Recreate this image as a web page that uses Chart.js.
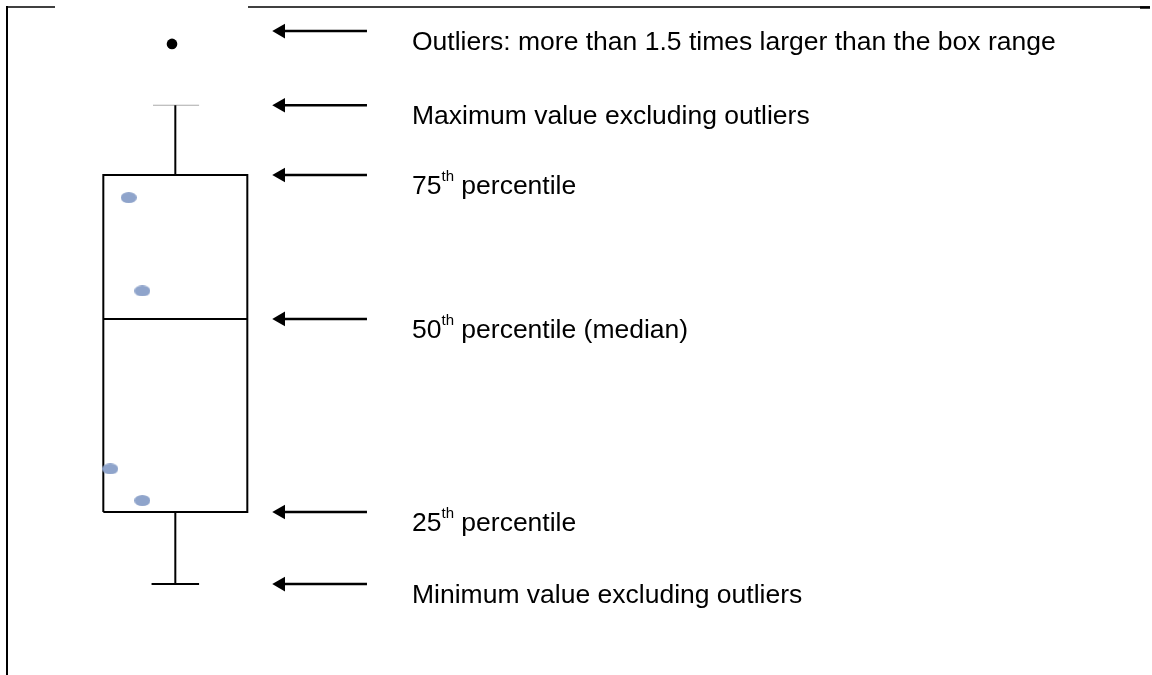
<!DOCTYPE html>
<html>
<head>
<meta charset="utf-8">
<script src="https://cdn.jsdelivr.net/npm/chart.js@4/dist/chart.umd.min.js"></script>
<style>
  html, body { margin: 0; padding: 0; background: #ffffff; }
  #wrap { width: 1152px; height: 675px; position: relative; }
</style>
</head>
<body>
<div id="wrap"><canvas id="c"></canvas></div>
<script>
// ---- data (illustrative box plot, arbitrary value units) ----
const boxStats = { min: 1.86, q1: 4.0, median: 9.73, q3: 14.0, max: 16.07 };
const outlierX = [0.954];
const outlierY = [17.89];
const sampleX = [0.353, 0.542, 0.097, 0.542];
const sampleY = [13.33, 10.56, 5.28, 4.34];
const arrowLevels = [18.27, 16.07, 14.0, 9.73, 4.0, 1.86];
const arrowLabels = [
  'Outliers: more than 1.5 times larger than the box range',
  'Maximum value excluding outliers',
  '75|th| percentile',
  '50|th| percentile (median)',
  '25|th| percentile',
  'Minimum value excluding outliers'
];

// ---- layout / style constants ----
const BOX_X = 1, BOX_HALF = 1, CAP_HALF = 0.33;
const ARROW_FROM = 2.464, ARROW_TO = 3.662, TEXT_X = 4.287;
const FONT = '"Liberation Sans", Arial, sans-serif';

// ellipse point style for the sample points
const ell = document.createElement('canvas');
ell.width = 16; ell.height = 11;
(function () {
  const g = ell.getContext('2d');
  g.fillStyle = '#8FA4CB';
  g.beginPath();
  g.ellipse(8, 5.5, 8, 5.5, 0, 0, Math.PI * 2);
  g.fill();
})();

const S = boxStats;
const seg = (a, b) => [a, b];
const LW = 2;
const datasets = [
  { // sample points (on top)
    data: sampleX.map((x, i) => ({ x, y: sampleY[i] })),
    pointStyle: ell, pointRadius: 8, showLine: false
  },
  { // outlier
    data: outlierX.map((x, i) => ({ x, y: outlierY[i] })),
    pointStyle: 'circle', pointRadius: 5.3, backgroundColor: '#000', borderWidth: 0, showLine: false
  },
  { // box
    data: [
      { x: BOX_X - BOX_HALF, y: S.q1 }, { x: BOX_X + BOX_HALF, y: S.q1 },
      { x: BOX_X + BOX_HALF, y: S.q3 }, { x: BOX_X - BOX_HALF, y: S.q3 },
      { x: BOX_X - BOX_HALF, y: S.q1 }
    ],
    showLine: true, borderColor: '#000', borderWidth: LW, pointRadius: 0, borderJoinStyle: 'miter'
  },
  { // median
    data: seg({ x: BOX_X - BOX_HALF, y: S.median }, { x: BOX_X + BOX_HALF, y: S.median }),
    showLine: true, borderColor: '#000', borderWidth: LW, pointRadius: 0
  },
  { // upper whisker
    data: seg({ x: BOX_X, y: S.q3 }, { x: BOX_X, y: S.max }),
    showLine: true, borderColor: '#000', borderWidth: LW, pointRadius: 0
  },
  { // lower whisker
    data: seg({ x: BOX_X, y: S.q1 }, { x: BOX_X, y: S.min }),
    showLine: true, borderColor: '#000', borderWidth: LW, pointRadius: 0
  },
  { // upper cap (light)
    data: seg({ x: BOX_X - CAP_HALF + 0.02, y: S.max }, { x: BOX_X + CAP_HALF, y: S.max }),
    showLine: true, borderColor: '#aaaaaa', borderWidth: 1, pointRadius: 0
  },
  { // lower cap
    data: seg({ x: BOX_X - CAP_HALF, y: S.min }, { x: BOX_X + CAP_HALF, y: S.min }),
    showLine: true, borderColor: '#000', borderWidth: LW, pointRadius: 0
  }
];
// arrows
arrowLevels.forEach(lv => {
  datasets.push({
    data: seg({ x: ARROW_FROM, y: lv }, { x: ARROW_TO, y: lv }),
    showLine: true, borderColor: '#000', borderWidth: 2.5,
    pointStyle: 'triangle', pointRadius: [8.5, 0], pointRotation: -90,
    backgroundColor: '#000', pointBorderWidth: 0
  });
});

const decor = {
  id: 'decor',
  beforeDraw(chart) {
    const ctx = chart.ctx;
    ctx.save();
    ctx.strokeStyle = '#000';
    ctx.lineWidth = 2;
    ctx.beginPath(); ctx.moveTo(7, 6); ctx.lineTo(7, 675); ctx.stroke();
    ctx.lineWidth = 1.5;
    ctx.beginPath(); ctx.moveTo(6, 7); ctx.lineTo(55, 7); ctx.stroke();
    ctx.beginPath(); ctx.moveTo(248, 7); ctx.lineTo(1150, 7); ctx.stroke();
    ctx.lineWidth = 2.5;
    ctx.beginPath(); ctx.moveTo(1140, 7.5); ctx.lineTo(1150, 7.5); ctx.stroke();
    ctx.restore();
  },
  afterDatasetsDraw(chart) {
    const ctx = chart.ctx;
    const xs = chart.scales.x, ys = chart.scales.y;
    ctx.save();
    ctx.fillStyle = '#000';
    ctx.textBaseline = 'alphabetic';
    ctx.textAlign = 'left';
    arrowLabels.forEach((lab, i) => {
      const y = ys.getPixelForValue(arrowLevels[i]) + 19;
      let x = xs.getPixelForValue(TEXT_X);
      const parts = lab.split('|');
      parts.forEach((p, j) => {
        const sup = j % 2 === 1;
        ctx.font = (sup ? '15px ' : '26.5px ') + FONT;
        ctx.fillText(p, x, sup ? y - 13 : y);
        x += ctx.measureText(p).width;
      });
    });
    ctx.restore();
  }
};

new Chart(document.getElementById('c'), {
  type: 'scatter',
  data: { datasets },
  options: {
    responsive: true,
    maintainAspectRatio: false,
    animation: false,
    layout: { padding: 0, autoPadding: false },
    plugins: { legend: { display: false }, tooltip: { enabled: false } },
    elements: { line: { tension: 0 } },
    scales: {
      x: { type: 'linear', display: false, min: -1.435, max: 14.565 },
      y: { type: 'linear', display: false, min: -0.837, max: 19.193 }
    }
  },
  plugins: [decor]
});
</script>
</body>
</html>
